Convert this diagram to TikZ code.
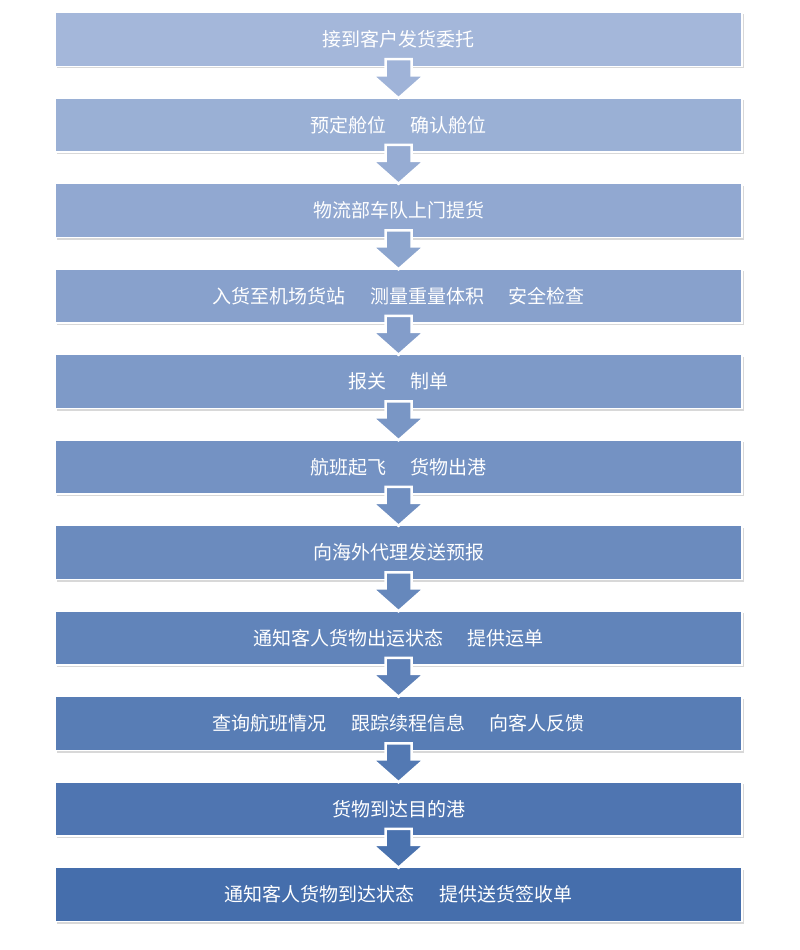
\documentclass[tikz,border=0pt]{standalone}
\usepackage{fontspec}
\newfontfamily\cjk{Noto Sans CJK SC}
\usetikzlibrary{positioning}
\usetikzlibrary{calc}
\definecolor{lightblue}{HTML}{A4B7DA}
\definecolor{darkblue}{HTML}{456EAC}
\tikzset{
  stepbox/.style={rectangle, draw=white, line width=1.5pt, minimum width=687pt, minimum height=54pt,
    text=white, font=\cjk\fontsize{19}{22}\selectfont, drop shadow={shadow xshift=2pt, shadow yshift=-2pt, fill=black!30}},
  flowarrow/.style={draw=white, line width=2.5pt, line join=miter, fill=#1}
}
\usetikzlibrary{shadows}
\begin{document}
\begin{tikzpicture}[x=1pt,y=-1pt]
  \useasboundingbox (0,0) rectangle (800,950);
  \def\gap{\hspace{1.3em}}
  \foreach \i/\txt in {1/接到客户发货委托, 2/预定舱位\gap 确认舱位, 3/物流部车队上门提货,
      4/入货至机场货站\gap 测量重量体积\gap 安全检查, 5/报关\gap 制单, 6/航班起飞\gap 货物出港,
      7/向海外代理发送预报, 8/通知客人货物出运状态\gap 提供运单, 9/查询航班情况\gap 跟踪续程信息\gap 向客人反馈,
      10/货物到达目的港, 11/通知客人货物到达状态\gap 提供送货签收单}{
    \pgfmathsetmacro{\mix}{100-(\i-1)*10}
    \colorlet{boxfill}{lightblue!\mix!darkblue}
    \node[stepbox, fill=boxfill] (b\i) at (398.5, {39.5+(\i-1)*85.5}) {\txt};
  }
  % chevron arrows between the steps
  \foreach \i [evaluate=\i as \j using int(\i+1)] in {1,...,10}{
    \pgfmathsetmacro{\mix}{95-(\i-1)*10}
    \colorlet{arrfill}{lightblue!\mix!darkblue}
    \draw[flowarrow=arrfill] ($(b\i.south)+(-13,-8)$) -- ($(b\i.south)+(13,-8)$) -- ($(b\i.south)+(13,8)$)
      -- ($(b\i.south)+(26,8)$) -- ($(b\j.north)+(0,1)$) -- ($(b\i.south)+(-26,8)$)
      -- ($(b\i.south)+(-13,8)$) -- cycle;
  }
\end{tikzpicture}
\end{document}
